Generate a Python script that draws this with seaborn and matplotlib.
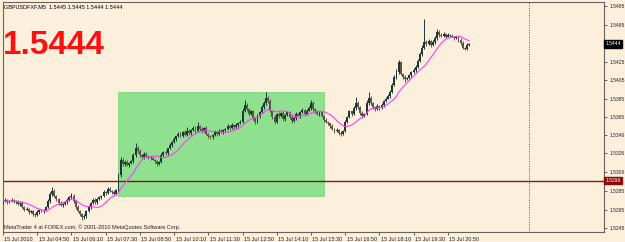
import numpy as np
import pandas as pd
import matplotlib
matplotlib.use("Agg")
import matplotlib.pyplot as plt
import matplotlib.transforms as mtransforms
from matplotlib.patches import Rectangle
import seaborn as sns

# ---------------- data (prices in pips above 1.5200) ----------------
symbol_line = "GBPUSDFXF,M5  1.5445 1.5445 1.5444 1.5444"
last_price = "1.5444"
copyright_text = "MetaTrader 4 at FOREX.com, \u00a9 2001-2010 MetaQuotes Software Corp."
start_time = "2010-07-15 03:30"
base_price = 1.5200

closes = [74, 75, 73, 74, 75, 74,
          73, 71, 72,
          68, 65, 66, 62, 63, 60, 59,
          62, 64, 63, 65,
          68, 74, 82, 85,
          80, 76,
          72, 70, 71,
          73, 75, 78,
          80, 74,
          68, 63, 60, 57, 58,
          63, 68, 72, 75,
          73, 76, 78,
          80, 84, 83, 87,
          85, 84, 82, 86,
          102, 118,
          114, 116, 113, 115, 117,
          124, 132, 128,
          124, 122, 125, 123, 122,
          121, 119, 117, 114, 116,
          124, 127, 126,
          131, 135, 138, 141, 144,
          147, 145, 149, 146, 150, 148,
          151, 153, 150, 155,
          152, 150, 153,
          147, 144, 143,
          146, 149, 147, 150,
          149, 151,
          152, 155, 153, 156, 154,
          156, 158, 160,
          172, 178,
          174, 168, 171,
          164, 160, 166,
          170, 176, 180,
          186, 182,
          172, 165, 160, 168,
          166, 169, 163, 167, 170, 165,
          161, 164, 168, 166,
          170, 173, 168, 172,
          175, 180, 174,
          171, 168, 170,
          166, 162, 160, 158,
          155, 152, 150, 151,
          148, 147, 150,
          160, 165,
          171, 168,
          175, 180, 176,
          169, 166, 168,
          180, 186,
          180, 176,
          174, 177, 175, 178,
          182, 185,
          188, 192,
          200, 208, 214,
          224,
          212,
          208, 206, 207,
          210, 214, 216, 219,
          226, 233, 240,
          246,
          244, 247, 243,
          246, 250,
          257, 254,
          253, 255, 252, 254, 253,
          252, 250, 251,
          248, 245,
          240, 238,
          243, 244]

opens = [73, 74, 75, 73, 74, 75,
         74, 73, 71,
         72, 68, 65, 66, 62, 63, 60,
         59, 62, 64, 63,
         65, 68, 74, 82,
         85, 80,
         76, 72, 70,
         71, 73, 75,
         78, 80,
         74, 68, 63, 60, 57,
         58, 63, 68, 72,
         75, 73, 76,
         78, 80, 84, 83,
         87, 85, 84, 82,
         86, 102,
         118, 114, 116, 113, 115,
         117, 124, 132,
         128, 124, 122, 125, 123,
         122, 121, 119, 117, 114,
         116, 124, 127,
         126, 131, 135, 138, 141,
         144, 147, 145, 149, 146, 150,
         148, 151, 153, 150,
         155, 152, 150,
         153, 147, 144,
         143, 146, 149, 147,
         150, 149,
         151, 152, 155, 153, 156,
         154, 156, 158,
         160, 172,
         178, 174, 168,
         171, 164, 160,
         166, 170, 176,
         180, 186,
         182, 172, 165, 160,
         168, 166, 169, 163, 167, 170,
         165, 161, 164, 168,
         166, 170, 173, 168,
         172, 175, 180,
         174, 171, 168,
         170, 166, 162, 160,
         158, 155, 152, 150,
         151, 148, 147,
         150, 160,
         165, 171,
         168, 175, 180,
         176, 169, 166,
         168, 180,
         186, 180,
         176, 174, 177, 175,
         178, 182,
         185, 188,
         192, 200, 208,
         214,
         224,
         212, 208, 206,
         207, 210, 214, 216,
         219, 226, 233,
         240,
         246, 244, 247,
         243, 246,
         250, 257,
         254, 253, 255, 252, 254,
         253, 252, 250,
         251, 248,
         245, 240,
         238, 243]

upper_wick = [1, 2, 1, 1, 2, 1,
              1, 2, 1,
              2, 1, 2, 1, 2, 1, 1,
              2, 1, 2, 1,
              1, 2, 2, 4,
              2, 1,
              1, 2, 1,
              1, 2, 2,
              3, 2,
              1, 2, 1, 1, 2,
              1, 2, 1, 2,
              2, 1, 2,
              1, 2, 1, 2,
              2, 1, 2, 1,
              2, 4,
              3, 2, 2, 1, 2,
              2, 5, 2,
              2, 1, 2, 2, 1,
              1, 2, 1, 2, 1,
              2, 1, 2,
              1, 2, 1, 2, 1,
              2, 2, 1, 2, 4, 2,
              1, 2, 2, 5,
              1, 2, 1,
              2, 1, 2,
              1, 2, 1, 2,
              2, 1,
              1, 2, 1, 2, 1,
              2, 1, 2,
              3, 5,
              2, 1, 2,
              2, 1, 2,
              1, 2, 2,
              6, 2,
              2, 1, 2, 1,
              2, 1, 2, 1, 2, 1,
              2, 1, 2, 1,
              1, 2, 1, 2,
              2, 3, 2,
              1, 2, 1,
              2, 1, 2, 1,
              1, 2, 1, 2,
              1, 2, 1,
              2, 1,
              2, 1,
              2, 7, 2,
              1, 2, 1,
              3, 6,
              2, 1,
              1, 2, 1, 2,
              1, 2,
              2, 2,
              2, 2, 3,
              3,
              2,
              1, 2, 1,
              2, 1, 2, 2,
              2, 2, 3,
              25,
              2, 2, 1,
              2, 3,
              3, 2,
              2, 2, 1, 2, 1,
              2, 1, 2,
              1, 2,
              2, 1,
              2, 1]

lower_wick = [2, 1, 2, 1, 1, 2,
              2, 1, 2,
              1, 2, 1, 2, 1, 2, 2,
              1, 2, 1, 2,
              2, 1, 2, 2,
              2, 2,
              2, 1, 2,
              1, 2, 1,
              2, 2,
              2, 1, 2, 3, 2,
              2, 1, 2, 1,
              2, 2, 1,
              2, 1, 2, 1,
              1, 2, 2, 1,
              2, 2,
              2, 2, 1, 2, 1,
              2, 2, 2,
              2, 1, 2, 1, 2,
              2, 1, 2, 2, 1,
              1, 2, 2,
              2, 1, 2, 1, 2,
              1, 2, 2, 1, 2, 2,
              2, 1, 2, 1,
              2, 2, 1,
              1, 2, 2,
              2, 1, 2, 1,
              1, 2,
              2, 1, 2, 1, 2,
              1, 2, 1,
              2, 2,
              2, 2, 1,
              2, 3, 1,
              2, 1, 2,
              2, 2,
              2, 2, 3, 1,
              2, 1, 2, 2, 1, 2,
              2, 1, 2, 1,
              2, 1, 2, 1,
              1, 2, 2,
              2, 1, 2,
              1, 2, 1, 2,
              2, 1, 2, 1,
              2, 2, 1,
              1, 2,
              1, 2,
              1, 2, 2,
              2, 2, 1,
              1, 2,
              2, 2,
              2, 1, 2, 1,
              2, 1,
              1, 2,
              1, 2, 2,
              2,
              2,
              2, 3, 1,
              1, 2, 1, 2,
              1, 2, 2,
              2,
              2, 1, 2,
              1, 2,
              2, 2,
              1, 2, 2, 1, 2,
              1, 2, 1,
              2, 2,
              2, 1,
              1, 1]

ma_period = 12

y_tick_labels = ["1.5485", "1.5465", "1.5425", "1.5405", "1.5385", "1.5365",
                 "1.5346", "1.5326", "1.5306", "1.5285", "1.5265", "1.5245"]
hline_price = 1.5296
rect_times = ("2010-07-15 08:00", "2010-07-15 16:00")
rect_prices = (1.5280, 1.5392)
separator_time = "2010-07-16 00:00"

# ---------------- build frame ----------------
n = len(closes)
times = pd.date_range(start_time, periods=n, freq="5min")
df = pd.DataFrame({
    "bar": np.arange(n),
    "open": base_price + np.array(opens) / 1e4,
    "close": base_price + np.array(closes) / 1e4,
})
df["high"] = np.maximum(df["open"], df["close"]) + np.array(upper_wick) / 1e4
df["low"] = np.minimum(df["open"], df["close"]) - np.array(lower_wick) / 1e4
df["ma"] = df["close"].rolling(ma_period, min_periods=1).mean()

def bar_of(t):
    return (pd.Timestamp(t) - times[0]) / pd.Timedelta("5min")

# ---------------- figure ----------------
sns.set_style("white")
plt.rcParams["font.family"] = ["Liberation Sans", "DejaVu Sans"]

W, H = 625, 242
fig = plt.figure(figsize=(W / 100, H / 100), dpi=100)
bg = "#FCF0DC"
fig.patch.set_facecolor(bg)
ax_l, ax_r, ax_t, ax_b = 3, 604, 2, 232
ax = fig.add_axes([ax_l / W, 1 - ax_b / H, (ax_r - ax_l) / W, (ax_b - ax_t) / H])
ax.set_facecolor(bg)

px_per_bar = 2.14
xmin = 0.2
xmax = xmin + (ax_r - ax_l) / px_per_bar
ax.set_xlim(xmin, xmax)
ytop = 1.5485 + 4 * 0.0001081
ybot = 1.5485 - 226 * 0.0001081
ax.set_ylim(ybot, ytop)

# rectangle object
r0, r1 = bar_of(rect_times[0]), bar_of(rect_times[1])
ax.add_patch(Rectangle((r0, rect_prices[0]), r1 - r0, rect_prices[1] - rect_prices[0],
                       facecolor="#8FE08F", edgecolor="#7CD87C", lw=0.6, zorder=1))

# horizontal line
ax.axhline(hline_price, color="#7E1C16", lw=1.0, zorder=2)
# day separator
ax.axvline(bar_of(separator_time), color="#555555", lw=0.7, ls=(0, (1, 1.5)), zorder=2)

# candles
bull = df["close"] >= df["open"]
colors = np.where(bull, "#1F3636", "#5C5449")
ax.vlines(df["bar"], df["low"], df["high"], colors=colors, lw=0.7, zorder=3)
body = (df["close"] - df["open"]).abs().clip(lower=0.00002)
ax.bar(df["bar"], body, bottom=np.minimum(df["open"], df["close"]), width=0.9,
       color=colors, linewidth=0, zorder=4)

# moving average
sns.lineplot(x=df["bar"], y=df["ma"], color="#FF3CFF", lw=0.8, ax=ax, zorder=5)
ax.set_xlabel("")
ax.set_ylabel("")

# axes styling
for s in ax.spines.values():
    s.set_color("#6A6258")
    s.set_linewidth(0.8)

ax.yaxis.tick_right()
yt = [float(v) for v in y_tick_labels]
ax.set_yticks(yt)
ax.set_yticklabels(y_tick_labels)
ax.tick_params(axis="y", which="both", right=True, length=2.5, width=0.5, pad=1.2,
               labelsize=3.6, colors="#222222")

xt = np.arange(0, n, 16)
xl = ["15 Jul 2010" if i == 0 else times[i].strftime("%d %b %H:%M") for i in xt]
ax.set_xticks(xt)
ax.set_xticklabels(xl)
ax.tick_params(axis="x", which="both", bottom=True, length=2.5, width=0.5, pad=1.0,
               labelsize=4, colors="#222222")
off = mtransforms.ScaledTranslation(1.5 / 100, 0, fig.dpi_scale_trans)
for lab in ax.get_xticklabels():
    lab.set_horizontalalignment("left")
    lab.set_transform(lab.get_transform() + off)

# price markers on right axis
ytr = ax.get_yaxis_transform()
ax.text(1.0025, float(last_price), last_price, transform=ytr, fontsize=3.6, color="white",
        va="center", ha="left", bbox=dict(facecolor="black", edgecolor="black", pad=0.8),
        clip_on=False, zorder=10)
ax.text(1.0025, hline_price, f"{hline_price:.4f}", transform=ytr, fontsize=3.6, color="white",
        va="center", ha="left", bbox=dict(facecolor="#8B0A0A", edgecolor="#8B0A0A", pad=0.8),
        clip_on=False, zorder=10)

# texts
fig.text(4 / W, 1 - 8 / H, symbol_line, fontsize=4, color="black", va="baseline", ha="left")
fig.text(3 / W, 1 - 54 / H, last_price, fontsize=24, fontweight="bold", color="#FF1010",
         va="baseline", ha="left")
fig.text(4 / W, 1 - 229 / H, copyright_text, fontsize=4, color="#222222", va="baseline", ha="left")

fig.savefig("out.png", dpi=100, facecolor=bg)
